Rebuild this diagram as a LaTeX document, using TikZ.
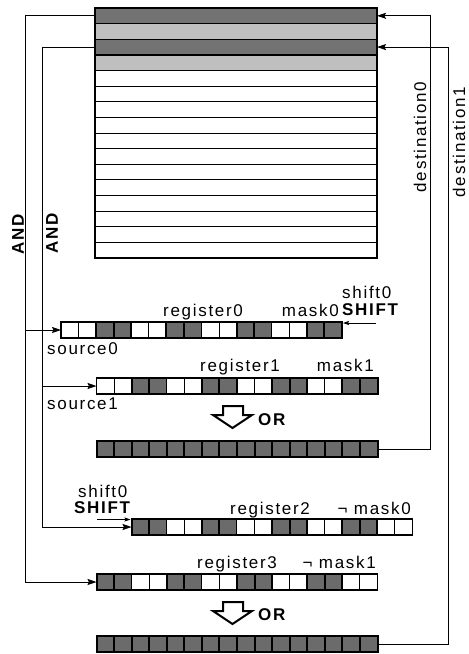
\documentclass[tikz,border=0pt]{standalone}
\usepackage{fontspec}
\setmainfont[LetterSpace=10]{Liberation Sans}
\usetikzlibrary{arrows.meta,calc}
\tikzset{
  lab/.style={font=\fontsize{17}{19}\selectfont, inner sep=0pt},
  blab/.style={font=\fontsize{17}{19}\selectfont\bfseries, inner sep=0pt},
  wire/.style={line width=0.8pt},
  conn/.style={line width=0.8pt, -{Stealth[length=9pt,width=6pt,inset=1.5pt]}},
  sconn/.style={line width=0.7pt, -{Stealth[length=6pt,width=4pt,inset=1pt]}},
  reg/.style={minimum width=281pt, minimum height=16pt, inner sep=0pt, outer sep=0pt},
  darkcell/.style={fill=black!58, draw=black, line width=2pt},
  whitecell/.style={fill=white, draw=black, line width=0.9pt},
  orarrow/.style={line width=2pt, fill=white, line join=miter},
}
\newcommand{\regcells}[2]{%
  \foreach \i in {0,...,15}{%
    \pgfmathtruncatemacro{\dk}{#2==2 ? 1 : mod(floor(\i/2)+#2,2)}%
    \ifnum\dk=1
      \draw[darkcell] ($(#1.north west)+(\i*17.5625,0)$) rectangle ++(17.5625,16);
    \else
      \draw[whitecell] ($(#1.north west)+(\i*17.5625,0)$) rectangle ++(17.5625,16);
    \fi
  }%
  \draw[line width=1.8pt] (#1.north west) rectangle (#1.south east);
}
\begin{document}
\begin{tikzpicture}[x=1pt,y=-1pt]
\fill[white] (0,0) rectangle (469,654);
\useasboundingbox (0,0) rectangle (469,654);

% memory block
\node[minimum width=282pt, minimum height=250pt, inner sep=0pt, outer sep=0pt] (mem) at (236,133) {};
\foreach \k/\c in {0/black!55,1/black!25,2/black!55,3/black!25}
  \fill[\c] ($(mem.north west)+(0,\k*15.625)$) rectangle ++(282,15.625);
\foreach \k in {1,...,4}
  \draw[line width=1.3pt] ($(mem.north west)+(0,\k*15.625)$) -- ++(282,0);
\foreach \k in {5,...,15}
  \draw[line width=0.8pt] ($(mem.north west)+(0,\k*15.625)$) -- ++(282,0);
\draw[line width=1.8pt] (mem.north west) rectangle (mem.south east);

\coordinate (m0w) at ($(mem.north west)+(0,7.8)$);
\coordinate (m2w) at ($(mem.north west)+(0,39.06)$);
\coordinate (m0e) at ($(mem.north east)+(0,7.8)$);
\coordinate (m2e) at ($(mem.north east)+(0,39.06)$);

% registers
\node[reg] (r0) at (201.5,330) {};
\node[reg] (r1) at (237,386) {};
\node[reg] (res1) at (237,449) {};
\node[reg] (r2) at (272,527) {};
\node[reg] (r3) at (237,582) {};
\node[reg] (res2) at (237,644) {};
\regcells{r0}{0}
\regcells{r1}{0}
\regcells{res1}{2}
\regcells{r2}{1}
\regcells{r3}{1}
\regcells{res2}{2}

% OR arrows
\draw[orarrow] (223,406) -- (243,406) -- (243,415) -- (252,415) -- (232.5,428) -- (213,415) -- (223,415) -- cycle;
\draw[orarrow] (223,602) -- (243,602) -- (243,611) -- (252,611) -- (232.5,624) -- (213,611) -- (223,611) -- cycle;

% connectors
\coordinate (ao) at (25,0);
\coordinate (ai) at (42,0);
\coordinate (d0) at (430,0);
\coordinate (d1) at (448,0);
\draw[conn] (m0w) -| (ao |- r3.west) -- (r3.west);
\draw[conn] (ao |- r0.west) -- (r0.west);
\draw[conn] (m2w) -| (ai |- r2.west) -- (r2.west);
\draw[conn] (ai |- r1.west) -- (r1.west);
\draw[conn] (res1.east) -| (d0 |- m0e) -- (m0e);
\draw[conn] (res2.east) -| (d1 |- m2e) -- (m2e);

% shift arrows
\coordinate (s0) at (376,323);
\coordinate (s2) at (97,519.5);
\draw[sconn] (s0) -- ($(r0.north east)+(1,1)$);
\draw[sconn] (s2) -- ($(r2.north west)+(-1,0.5)$);

% labels
\node[lab, anchor=base west] (tr0) at (163,316) {register0};
\node[lab, anchor=base east] (tm0) at (339,316) {mask0};
\node[lab, anchor=base west] (ts0) at (342,298) {shift0};
\node[blab, anchor=base west] (tS0) at (342,315) {SHIFT};
\node[lab, anchor=base west] (tsrc0) at (47,354) {source0};
\node[lab, anchor=base west] (tr1) at (200,371) {register1};
\node[lab, anchor=base east] (tm1) at (374,371) {mask1};
\node[lab, anchor=base west] (tsrc1) at (47,409) {source1};
\node[blab, anchor=base west] (tor1) at (258,425) {OR};
\node[lab, anchor=base west] (ts2) at (78,497) {shift0};
\node[blab, anchor=base west] (tS2) at (74,513) {SHIFT};
\node[lab, anchor=base west] (tr2) at (230,514) {register2};
\node[lab, anchor=base east] (tm2) at (411,514) {¬ mask0};
\node[lab, anchor=base west] (tr3) at (197,568) {register3};
\node[lab, anchor=base east] (tm3) at (376,568) {¬ mask1};
\node[blab, anchor=base west] (tor2) at (258,620) {OR};
\node[blab, rotate=90] (and0) at (18,234) {AND};
\node[blab, rotate=90] (and1) at (52,233) {AND};
\node[lab, rotate=90] (dst0) at (420,137) {destination0};
\node[lab, rotate=90] (dst1) at (459,142) {destination1};
\end{tikzpicture}
\end{document}
